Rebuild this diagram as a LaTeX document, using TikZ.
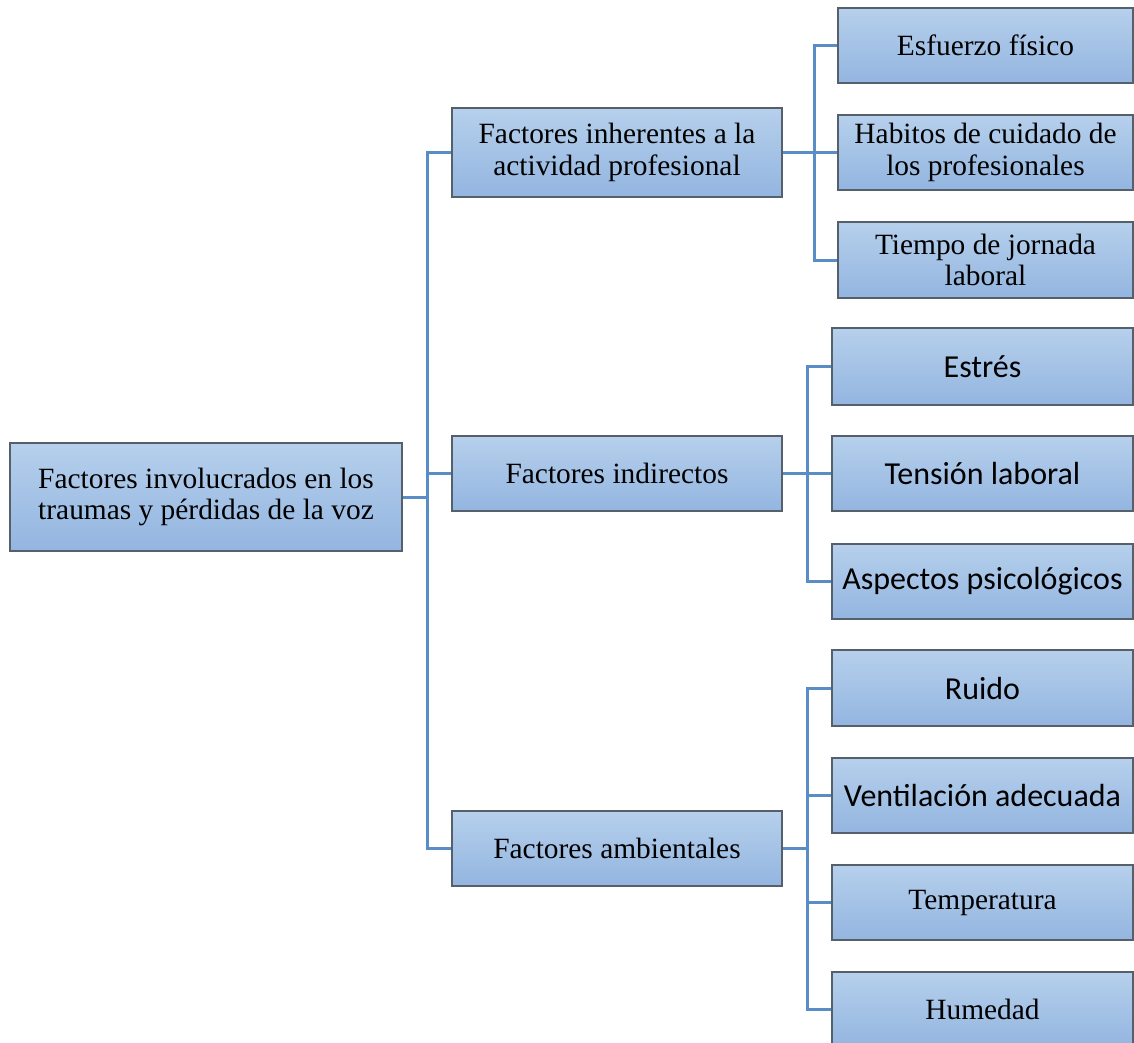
\documentclass[tikz,border=0pt]{standalone}
\usepackage{fontspec}
\setmainfont{Liberation Serif}
\newfontfamily\calibri{Carlito}
\definecolor{boxtop}{HTML}{B6D0EC}
\definecolor{boxbot}{HTML}{93B5E0}
\definecolor{boxline}{HTML}{56606B}
\definecolor{conncol}{HTML}{5A8DC6}
\tikzset{
  box/.style={draw=boxline, line width=1.2pt, rectangle, top color=boxtop, bottom color=boxbot,
    align=center, inner sep=0pt, font=\fontsize{29.4}{31.5}\selectfont},
  cbox/.style={box, font=\calibri\fontsize{32}{34}\selectfont},
  conn/.style={draw=conncol, line width=3pt},
}
\begin{document}
\begin{tikzpicture}[x=1pt,y=-1pt]
\useasboundingbox (0,0) rectangle (1134,1042);
% root
\node[box, minimum width=392pt, minimum height=108pt] (root) at (206,497) {Factores involucrados en los\\traumas y pérdidas de la voz};
% middle
\node[box, minimum width=330pt, minimum height=89pt] (m1) at (617,152.5) {Factores inherentes a la\\actividad profesional};
\node[box, minimum width=330pt, minimum height=75pt] (m2) at (617,473.5) {Factores indirectos};
\node[box, minimum width=330pt, minimum height=75pt] (m3) at (617,848.5) {Factores ambientales};
% group 1
\node[box, minimum width=295pt, minimum height=75pt] (a1) at (985.5,45.5) {Esfuerzo físico};
\node[box, minimum width=295pt, minimum height=75pt] (a2) at (985.5,152.5) {Habitos de cuidado de\\los profesionales};
\node[box, minimum width=295pt, minimum height=76pt] (a3) at (985.5,260) {Tiempo de jornada\\laboral};
% group 2
\node[cbox, minimum width=301pt, minimum height=77pt] (b1) at (982.5,366.5) {Estrés};
\node[cbox, minimum width=301pt, minimum height=75pt] (b2) at (982.5,473.5) {Tensión laboral};
\node[cbox, minimum width=301pt, minimum height=75pt] (b3) at (982.5,581.5) {Aspectos psicológicos};
% group 3
\node[cbox, minimum width=301pt, minimum height=76pt] (c1) at (982.5,688) {Ruido};
\node[cbox, minimum width=301pt, minimum height=75pt] (c2) at (982.5,795.5) {Ventilación adecuada};
\node[box, minimum width=301pt, minimum height=75pt] (c3) at (982.5,902.5) {Temperatura};
\node[box, minimum width=301pt, minimum height=75pt] (c4) at (982.5,1009.5) {Humedad};
% trunk coordinates
\coordinate (t0) at (427,0);
\coordinate (t1) at (814,0);
\coordinate (t2) at (807,0);
\coordinate (t3) at (807,0);
% connectors level 1
\draw[conn] (root.east) -- (root.east -| t0);
\draw[conn] (m1.west) -- (m1.west -| t0) -- (m3.west -| t0) -- (m3.west);
\draw[conn] (m2.west) -- (m2.west -| t0);
% group 1
\draw[conn] (m1.east) -- (m1.east -| t1);
\draw[conn] (a1.west) -- (a1.west -| t1) -- (a3.west -| t1) -- (a3.west);
\draw[conn] (a2.west) -- (a2.west -| t1);
% group 2
\draw[conn] (m2.east) -- (m2.east -| t2);
\draw[conn] (b1.west) -- (b1.west -| t2) -- (b3.west -| t2) -- (b3.west);
\draw[conn] (b2.west) -- (b2.west -| t2);
% group 3
\draw[conn] (m3.east) -- (m3.east -| t3);
\draw[conn] (c1.west) -- (c1.west -| t3) -- (c4.west -| t3) -- (c4.west);
\draw[conn] (c2.west) -- (c2.west -| t3);
\draw[conn] (c3.west) -- (c3.west -| t3);
\end{tikzpicture}
\end{document}
